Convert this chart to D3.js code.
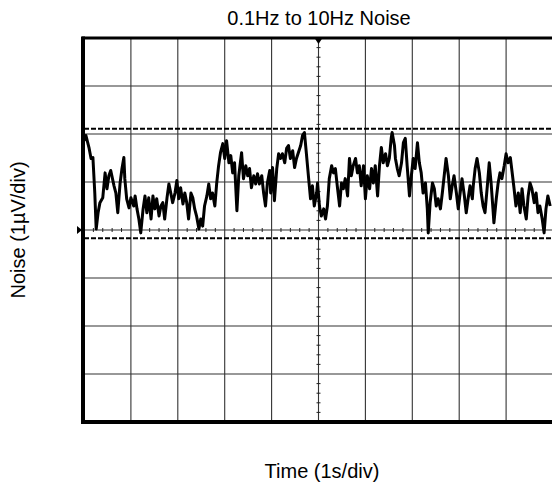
<!DOCTYPE html>
<html>
<head>
<meta charset="utf-8">
<script src="https://cdn.jsdelivr.net/npm/d3@7"></script>
<style>
    body { margin: 0; background: #fff; }
    #chart { width: 552px; height: 487px; }
    .grid-line { stroke: #333; stroke-width: 1.1; }
    .chart-text { font-family: "Liberation Sans", Arial, sans-serif; fill: #000; }
</style>
</head>
<body>
<div id="chart"></div>
<script>
// time in seconds, noise in uV (1 div = 1 uV)
const timeS = [
    0.00, 0.04, 0.11, 0.15, 0.19, 0.23, 0.26, 0.30, 0.34, 0.40, 0.45, 0.49, 0.53, 0.57, 0.64, 0.68,
    0.72, 0.77, 0.81, 0.85, 0.87, 0.91, 0.96, 1.00, 1.06, 1.09, 1.13, 1.17, 1.21, 1.26, 1.30, 1.34,
    1.38, 1.43, 1.47, 1.51, 1.55, 1.60, 1.64, 1.68, 1.72, 1.77, 1.81, 1.85, 1.89, 1.94, 1.98, 2.02,
    2.06, 2.11, 2.15, 2.19, 2.23, 2.28, 2.32, 2.36, 2.40, 2.45, 2.49, 2.53, 2.57, 2.62, 2.66, 2.70,
    2.74, 2.79, 2.83, 2.87, 2.91, 2.96, 3.00, 3.04, 3.09, 3.13, 3.17, 3.21, 3.26, 3.30, 3.36, 3.40,
    3.45, 3.49, 3.53, 3.57, 3.62, 3.66, 3.70, 3.74, 3.79, 3.83, 3.87, 3.91, 3.96, 3.98, 4.02, 4.06,
    4.11, 4.15, 4.19, 4.23, 4.28, 4.32, 4.36, 4.40, 4.45, 4.49, 4.53, 4.57, 4.62, 4.66, 4.70, 4.74,
    4.79, 4.83, 4.87, 4.91, 4.96, 4.98, 5.02, 5.06, 5.11, 5.15, 5.19, 5.23, 5.28, 5.32, 5.36, 5.40,
    5.45, 5.49, 5.53, 5.57, 5.62, 5.66, 5.70, 5.74, 5.79, 5.83, 5.87, 5.91, 5.96, 6.00, 6.04, 6.09,
    6.13, 6.17, 6.21, 6.26, 6.30, 6.34, 6.38, 6.43, 6.47, 6.51, 6.55, 6.57, 6.62, 6.64, 6.68, 6.72,
    6.77, 6.81, 6.85, 6.89, 6.94, 6.98, 7.02, 7.06, 7.11, 7.15, 7.19, 7.23, 7.28, 7.32, 7.34, 7.38,
    7.43, 7.47, 7.51, 7.55, 7.60, 7.64, 7.68, 7.72, 7.77, 7.81, 7.85, 7.89, 7.94, 7.98, 8.02, 8.06,
    8.11, 8.15, 8.19, 8.23, 8.28, 8.30, 8.34, 8.38, 8.43, 8.47, 8.51, 8.55, 8.60, 8.64, 8.68, 8.72,
    8.74, 8.79, 8.83, 8.87, 8.91, 8.96, 9.00, 9.04, 9.09, 9.13, 9.17, 9.21, 9.26, 9.30, 9.34, 9.38,
    9.43, 9.47, 9.51, 9.55, 9.60, 9.64, 9.68, 9.72, 9.77, 9.81, 9.85, 9.89, 9.94
];
const noiseUV = [
    1.86, 1.97, 1.70, 1.49, 1.51, 0.77, 0.02, 0.36, 0.57, 0.67, 1.19, 0.86, 1.13, 1.24, 0.92, 0.77,
    0.36, 0.98, 1.28, 1.51, 1.07, 0.65, 0.46, 0.67, 0.50, 0.71, 0.44, 0.23, -0.06, 0.44, 0.71, 0.36,
    0.67, 0.23, 0.71, 0.44, 0.65, 0.29, 0.50, 0.57, 0.23, 0.67, 0.96, 0.77, 0.57, 0.77, 1.03, 0.65,
    0.88, 0.54, 0.77, 0.57, 0.23, 0.77, 0.67, 0.44, 0.29, 0.02, 0.23, 0.08, 0.50, 0.71, 0.96, 0.65,
    0.77, 0.50, 0.98, 1.34, 1.61, 1.80, 1.49, 1.86, 1.40, 1.55, 1.19, 1.40, 0.40, 1.13, 1.61, 1.07,
    1.34, 1.13, 1.28, 0.88, 1.13, 0.96, 1.17, 0.96, 1.13, 0.77, 0.50, 0.98, 1.24, 0.77, 1.30, 0.61,
    1.28, 1.59, 1.49, 1.59, 1.40, 1.70, 1.76, 1.49, 1.65, 1.30, 1.49, 1.61, 1.76, 1.97, 2.03, 1.61,
    1.07, 0.65, 0.92, 0.50, 0.77, 0.98, 0.50, 0.29, 0.44, 0.23, 0.50, 1.07, 1.34, 1.19, 1.28, 0.92,
    0.50, 0.98, 0.86, 1.07, 0.71, 1.49, 1.13, 1.34, 1.49, 1.19, 1.34, 0.92, 1.34, 0.65, 1.13, 0.86,
    1.28, 0.98, 1.34, 0.71, 1.34, 1.72, 1.40, 1.59, 1.34, 1.49, 1.91, 2.03, 1.76, 1.49, 1.28, 1.13,
    1.40, 1.82, 1.91, 1.34, 0.71, 1.13, 1.49, 1.28, 1.82, 1.40, 1.19, 0.77, 0.98, 0.44, -0.06, 0.57,
    0.98, 0.86, 0.50, 0.65, 0.44, 0.77, 1.13, 1.49, 1.13, 0.65, 0.92, 1.13, 0.77, 0.44, 0.77, 1.07,
    0.71, 0.36, 0.65, 0.92, 0.65, 0.92, 1.28, 1.49, 1.19, 0.77, 0.50, 0.36, 0.92, 1.40, 0.98, 0.44,
    0.15, 0.65, 0.98, 1.19, 1.07, 1.34, 1.59, 1.40, 1.51, 1.19, 0.86, 0.50, 0.77, 0.36, 0.86, 0.50,
    0.23, 0.71, 0.98, 0.86, 0.57, 0.77, 0.36, 0.50, 0.23, -0.06, 0.44, 0.71, 0.50
];
const cursorLevels = [2.11, -0.17];
const titleText = "0.1Hz to 10Hz Noise";
const xLabelText = "Time (1s/div)";
const yLabelText = "Noise (1µV/div)";

const data = timeS.map((t, i) => ({ t: t, v: noiseUV[i] }));

const width = 552;
const height = 487;
const plot = { left: 84, right: 553, top: 38, bottom: 422 };

const svg = d3.select("#chart")
    .append("svg")
    .attr("width", width)
    .attr("height", height);

const xScale = d3.scaleLinear()
    .domain([0, 10])
    .range([plot.left, plot.right]);

const yScale = d3.scaleLinear()
    .domain([-4, 4])
    .range([plot.bottom, plot.top]);

// grid, 10 x 8 divisions
svg.selectAll(".x-grid")
    .data(d3.range(1, 10).filter(d => d !== 5))
    .enter()
    .append("line")
    .attr("class", "grid-line")
    .attr("x1", d => xScale(d))
    .attr("x2", d => xScale(d))
    .attr("y1", plot.top)
    .attr("y2", plot.bottom);

svg.selectAll(".y-grid")
    .data(d3.range(-3, 4).filter(d => d !== 0))
    .enter()
    .append("line")
    .attr("class", "grid-line")
    .attr("x1", plot.left)
    .attr("x2", width)
    .attr("y1", d => yScale(d))
    .attr("y2", d => yScale(d));

// center axes with minor ticks
svg.append("line")
    .attr("class", "grid-line")
    .attr("x1", xScale(5)).attr("x2", xScale(5))
    .attr("y1", plot.top).attr("y2", plot.bottom);

svg.append("line")
    .attr("class", "grid-line")
    .attr("x1", plot.left).attr("x2", width)
    .attr("y1", yScale(0)).attr("y2", yScale(0));

svg.selectAll(".x-minor")
    .data(d3.range(1, 50).filter(d => d % 5 !== 0).map(d => d / 5))
    .enter()
    .append("line")
    .attr("stroke", "#222")
    .attr("x1", d => xScale(d))
    .attr("x2", d => xScale(d))
    .attr("y1", yScale(0) - 2)
    .attr("y2", yScale(0) + 2);

svg.selectAll(".y-minor")
    .data(d3.range(-19, 20).filter(d => d % 5 !== 0).map(d => d / 5))
    .enter()
    .append("line")
    .attr("stroke", "#222")
    .attr("x1", xScale(5) - 2)
    .attr("x2", xScale(5) + 2)
    .attr("y1", d => yScale(d))
    .attr("y2", d => yScale(d));

// cursors
svg.selectAll(".cursor")
    .data(cursorLevels)
    .enter()
    .append("line")
    .attr("stroke", "#000")
    .attr("stroke-width", 2)
    .attr("stroke-dasharray", "5,2")
    .attr("x1", plot.left)
    .attr("x2", width)
    .attr("y1", d => yScale(d))
    .attr("y2", d => yScale(d));

// noise trace
const line = d3.line()
    .x(d => xScale(d.t))
    .y(d => yScale(d.v));

svg.append("path")
    .datum(data)
    .attr("d", line)
    .attr("fill", "none")
    .attr("stroke", "#000")
    .attr("stroke-width", 3)
    .attr("stroke-linejoin", "round");

// frame
svg.append("line")
    .attr("stroke", "#000").attr("stroke-width", 3)
    .attr("x1", plot.left - 2).attr("x2", width)
    .attr("y1", plot.top).attr("y2", plot.top);

svg.append("line")
    .attr("stroke", "#000").attr("stroke-width", 4)
    .attr("x1", plot.left - 2).attr("x2", width)
    .attr("y1", plot.bottom).attr("y2", plot.bottom);

svg.append("line")
    .attr("stroke", "#000").attr("stroke-width", 4)
    .attr("x1", plot.left - 1).attr("x2", plot.left - 1)
    .attr("y1", plot.top - 1.5).attr("y2", plot.bottom + 2);

// trigger markers
const tx = xScale(5);
svg.append("path")
    .attr("d", `M${tx - 4},${plot.top} L${tx + 4},${plot.top} L${tx},${plot.top + 6} Z`)
    .attr("fill", "#000");

const ty = yScale(0);
svg.append("path")
    .attr("d", `M${plot.left - 7},${ty - 4} L${plot.left - 7},${ty + 4} L${plot.left - 2},${ty} Z`)
    .attr("fill", "#000");

// text
svg.append("text")
    .attr("class", "chart-text")
    .attr("x", 319)
    .attr("y", 25)
    .attr("text-anchor", "middle")
    .style("font-size", "20px")
    .text(titleText);

svg.append("text")
    .attr("class", "chart-text")
    .attr("x", 322)
    .attr("y", 478)
    .attr("text-anchor", "middle")
    .style("font-size", "20px")
    .text(xLabelText);

svg.append("text")
    .attr("class", "chart-text")
    .attr("transform", "rotate(-90)")
    .attr("x", -yScale(0))
    .attr("y", 25)
    .attr("text-anchor", "middle")
    .style("font-size", "20px")
    .text(yLabelText);
</script>
</body>
</html>
